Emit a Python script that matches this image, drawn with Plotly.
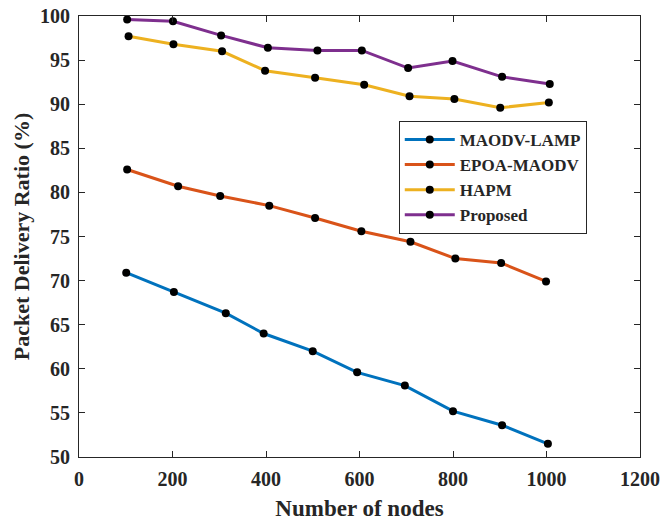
import plotly.graph_objects as go

series_names = ["MAODV-LAMP", "EPOA-MAODV", "HAPM", "Proposed"]
colors = ["#0072BD", "#D95319", "#EDB120", "#7E2F8E"]

x_maodv = [101, 203, 314, 395, 500, 595, 697, 800, 905, 1003]
y_maodv = [70.9, 68.7, 66.3, 64.0, 62.0, 59.6, 58.1, 55.2, 53.6, 51.5]

x_epoa = [103, 212, 302, 407, 505, 604, 709, 805, 903, 999]
y_epoa = [82.6, 80.7, 79.6, 78.5, 77.1, 75.6, 74.4, 72.5, 72.0, 69.9]

x_hapm = [106, 202, 306, 398, 505, 610, 707, 803, 901, 1005]
y_hapm = [97.7, 96.8, 96.0, 93.8, 93.0, 92.2, 90.9, 90.6, 89.6, 90.2]

x_prop = [103, 201, 304, 404, 510, 605, 704, 799, 905, 1007]
y_prop = [99.6, 99.4, 97.8, 96.4, 96.1, 96.1, 94.1, 94.9, 93.1, 92.3]

x_ticks = [0, 200, 400, 600, 800, 1000, 1200]
y_ticks = [50, 55, 60, 65, 70, 75, 80, 85, 90, 95, 100]

data = [(x_maodv, y_maodv), (x_epoa, y_epoa), (x_hapm, y_hapm), (x_prop, y_prop)]

font_family = "Liberation Serif"
ink = "#262626"

fig = go.Figure()
for (xs, ys), name, c in zip(data, series_names, colors):
    fig.add_trace(go.Scatter(
        x=xs, y=ys, name=f"<b>{name}</b>", mode="lines+markers",
        line=dict(color=c, width=3),
        marker=dict(color="black", size=8),
    ))

axis_common = dict(
    showgrid=False, zeroline=False, showline=True, linecolor=ink,
    linewidth=1, mirror="ticks", ticks="inside", ticklen=6, tickcolor=ink,
    tickfont=dict(family=font_family, size=20, color=ink),
    ticklabeloverflow="allow", automargin=False,
)

fig.update_layout(
    width=662, height=521,
    margin=dict(l=79, r=22, t=16, b=64),
    paper_bgcolor="white", plot_bgcolor="white",
    font=dict(family=font_family, color=ink),
    xaxis=dict(range=[0, 1200], tickvals=x_ticks,
               ticktext=[f"<b>{v}</b>" for v in x_ticks],
               ticklabelstandoff=4,
               title=dict(text="<b>Number of nodes</b>",
                          font=dict(family=font_family, size=23, color=ink), standoff=10),
               **axis_common),
    yaxis=dict(range=[50, 100], tickvals=y_ticks,
               ticktext=[f"<b>{v}</b>" for v in y_ticks],
               ticklabelstandoff=4,
               title=dict(text="<b>Packet Delivery Ratio (%)</b>",
                          font=dict(family=font_family, size=22, color=ink), standoff=4),
               **axis_common),
    legend=dict(
        x=0.570, y=0.762, xanchor="left", yanchor="top",
        bgcolor="white", bordercolor=ink, borderwidth=1,
        font=dict(family=font_family, size=17, color=ink),
        tracegroupgap=0, itemwidth=50,
    ),
    showlegend=True,
)

fig.write_html(
    "out.html",
    config={"displayModeBar": False},
    post_script="document.body.style.margin='0';document.body.style.overflow='hidden';",
)
